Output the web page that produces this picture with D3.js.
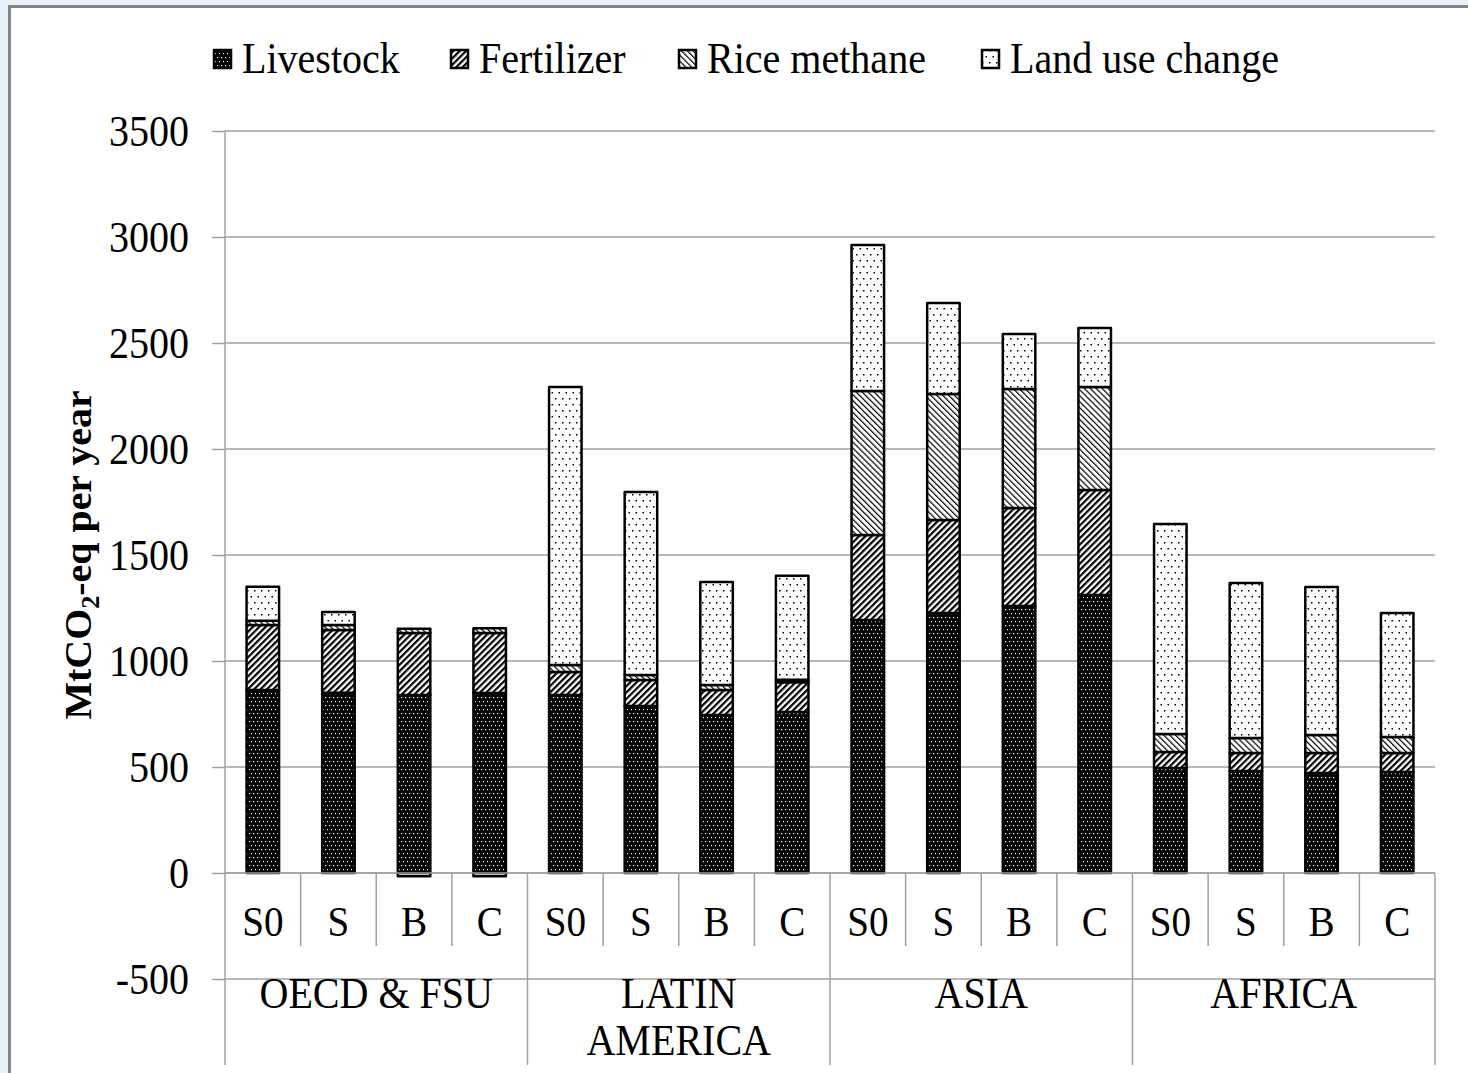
<!DOCTYPE html>
<html>
<head>
<meta charset="utf-8">
<script src="https://cdn.jsdelivr.net/npm/d3@7"></script>
<style>
  html, body { margin: 0; padding: 0; background: #e8f1f7; }
  svg { display: block; }
  text { font-family: "Liberation Serif", "Times New Roman", serif; fill: #000; }
</style>
</head>
<body>
<svg id="chart" width="1468" height="1073"></svg>
<script>
// ---- data ----
const groups = ["OECD & FSU", "LATIN AMERICA", "ASIA", "AFRICA"];
const scenarios = ["S0", "S", "B", "C"];
const seriesNames = ["Livestock", "Fertilizer", "Rice methane", "Land use change"];
const livestock     = [863, 850, 840, 849,   840, 788, 745, 760,   1193, 1226, 1259, 1311,   495, 481, 472, 476];
const fertilizer    = [307, 296, 292, 283,   108, 122, 118, 140,    401,  439,  463,  496,    76,  85,  94,  90];
const riceMethane   = [ 20,  24,  20,  22,    33,  24,  24,  12,    680,  594,  561,  485,    85,  71,  85,  76];
const landUseChange = [160,  61, -15, -15,  1311, 863, 486, 490,    688,  430,  259,  279,   990, 731, 698, 584];
const yTicks = [-500, 0, 500, 1000, 1500, 2000, 2500, 3000, 3500];

// ---- build rows ----
const rows = [];
groups.forEach((g, gi) => scenarios.forEach((s, si) => {
  const i = gi * scenarios.length + si;
  rows.push({ id: g + "|" + s, group: g, scen: s,
    "Livestock": livestock[i], "Fertilizer": fertilizer[i],
    "Rice methane": riceMethane[i], "Land use change": landUseChange[i] });
}));

const svg = d3.select("#chart");
const SX = 0.91; // horizontal condensing of the serif type, as in the reference

function label(parent, x, yy, str, size, anchor) {
  return parent.append("text")
    .attr("transform", `translate(${x},${yy}) scale(${SX},1)`)
    .attr("text-anchor", anchor || "start")
    .style("font-size", size + "px").text(str);
}

// ---- patterns ----
const defs = svg.append("defs");
const pLive = defs.append("pattern").attr("id", "pLive").attr("patternUnits", "userSpaceOnUse")
  .attr("width", 4).attr("height", 8);
pLive.append("rect").attr("width", 4).attr("height", 8).attr("fill", "#000");
pLive.append("rect").attr("x", 1).attr("y", 1).attr("width", 1.2).attr("height", 1.2).attr("fill", "#fff");
pLive.append("rect").attr("x", 3).attr("y", 5).attr("width", 1.2).attr("height", 1.2).attr("fill", "#fff");

const pFert = defs.append("pattern").attr("id", "pFert").attr("patternUnits", "userSpaceOnUse")
  .attr("width", 4.5).attr("height", 10).attr("patternTransform", "rotate(45)");
pFert.append("rect").attr("width", 4.5).attr("height", 10).attr("fill", "#fff");
pFert.append("rect").attr("width", 2.2).attr("height", 10).attr("fill", "#000");

const pRice = defs.append("pattern").attr("id", "pRice").attr("patternUnits", "userSpaceOnUse")
  .attr("width", 4.2).attr("height", 10).attr("patternTransform", "rotate(-45)");
pRice.append("rect").attr("width", 4.2).attr("height", 10).attr("fill", "#fff");
pRice.append("rect").attr("width", 1.2).attr("height", 10).attr("fill", "#000");

const pLand = defs.append("pattern").attr("id", "pLand").attr("patternUnits", "userSpaceOnUse")
  .attr("width", 7).attr("height", 12);
pLand.append("rect").attr("width", 7).attr("height", 12).attr("fill", "#fff");
pLand.append("rect").attr("x", 2).attr("y", 2).attr("width", 1.5).attr("height", 1.5).attr("fill", "#000");
pLand.append("rect").attr("x", 5.5).attr("y", 8).attr("width", 1.5).attr("height", 1.5).attr("fill", "#000");

const fills = { "Livestock": "url(#pLive)", "Fertilizer": "url(#pFert)",
  "Rice methane": "url(#pRice)", "Land use change": "url(#pLand)" };

// ---- frame ----
svg.append("rect").attr("x", 11).attr("y", 8).attr("width", 1468).attr("height", 1073).attr("fill", "#fff");
svg.append("rect").attr("x", 8).attr("y", 5).attr("width", 1468).attr("height", 3).attr("fill", "#858585");
svg.append("rect").attr("x", 8).attr("y", 5).attr("width", 3).attr("height", 1073).attr("fill", "#858585");

// ---- scales ----
const plotL = 225, plotR = 1435;
const y = d3.scaleLinear().domain([-500, 3500]).range([979, 131]);
const x = d3.scaleBand().domain(rows.map(d => d.id)).range([plotL, plotR]).padding(0);
const gx = d3.scaleBand().domain(groups).range([plotL, plotR]).padding(0);
const barW = x.bandwidth() * 0.43;

// ---- gridlines ----
svg.append("g").selectAll("line").data(yTicks).join("line")
  .attr("x1", plotL).attr("x2", plotR)
  .attr("y1", d => y(d)).attr("y2", d => y(d))
  .attr("stroke", "#a0a0a0").attr("stroke-width", 1.5);

// ---- y axis ----
const yAxis = svg.append("g").attr("transform", `translate(${plotL},0)`)
  .call(d3.axisLeft(y).tickValues(yTicks).tickSize(13).tickFormat(""));
yAxis.select(".domain").remove();
yAxis.selectAll(".tick line").attr("stroke", "#a0a0a0").attr("stroke-width", 1.5);
const yLab = svg.append("g");
yTicks.forEach(v => {
  label(yLab, 189, y(v), String(v), 44, "end").attr("dominant-baseline", "central");
});
svg.append("line").attr("x1", plotL).attr("x2", plotL).attr("y1", y(3500)).attr("y2", 1065)
  .attr("stroke", "#a0a0a0").attr("stroke-width", 1.5);

// ---- bars ----
const stack = d3.stack().keys(seriesNames).offset(d3.stackOffsetDiverging);
const stacked = stack(rows);
const barG = svg.append("g");
stacked.forEach(layer => {
  barG.append("g").selectAll("rect").data(layer).join("rect")
    .attr("x", d => x(d.data.id) + (x.bandwidth() - barW) / 2)
    .attr("width", barW)
    .attr("y", d => y(Math.max(d[0], d[1])))
    .attr("height", d => Math.abs(y(d[0]) - y(d[1])))
    .attr("fill", fills[layer.key])
    .attr("stroke", "#000").attr("stroke-width", 2.5).attr("stroke-linejoin", "round");
});

// ---- category axis (at zero) ----
const axG = svg.append("g");
axG.append("line").attr("x1", plotL).attr("x2", plotR).attr("y1", y(0)).attr("y2", y(0))
  .attr("stroke", "#a0a0a0").attr("stroke-width", 1.5);
rows.forEach((d, i) => {
  if (i % scenarios.length !== 0) {
    axG.append("line").attr("x1", x(d.id)).attr("x2", x(d.id))
      .attr("y1", y(0)).attr("y2", 946).attr("stroke", "#a0a0a0").attr("stroke-width", 1.5);
  }
});
groups.forEach(g => {
  axG.append("line").attr("x1", gx(g) + gx.bandwidth()).attr("x2", gx(g) + gx.bandwidth())
    .attr("y1", y(0)).attr("y2", 1065).attr("stroke", "#a0a0a0").attr("stroke-width", 1.5);
});
rows.forEach(d => {
  label(axG, x(d.id) + x.bandwidth() / 2, 921, d.scen, 43, "middle").attr("dominant-baseline", "central");
});
const groupLines = { "OECD & FSU": ["OECD & FSU"], "LATIN AMERICA": ["LATIN", "AMERICA"],
  "ASIA": ["ASIA"], "AFRICA": ["AFRICA"] };
groups.forEach(g => {
  groupLines[g].forEach((ln, k) => {
    label(axG, gx(g) + gx.bandwidth() / 2, 1008 + k * 47, ln, 44, "middle");
  });
});

// ---- y title ----
const yt = svg.append("text").attr("transform", "translate(91,555) rotate(-90) scale(1.05,1)")
  .attr("text-anchor", "middle").style("font-size", "38px").style("font-weight", "bold");
yt.append("tspan").text("MtCO");
yt.append("tspan").attr("dy", 8).style("font-size", "25px").text("2");
yt.append("tspan").attr("dy", -8).text("-eq per year");

// ---- legend ----
const legendX = [214, 451, 679, 982];
const lg = svg.append("g");
seriesNames.forEach((s, i) => {
  lg.append("rect").attr("x", legendX[i]).attr("y", 50).attr("width", 17).attr("height", 18)
    .attr("fill", fills[s]).attr("stroke", "#000").attr("stroke-width", 2.5);
  label(lg, legendX[i] + 28, 73, s, 44, "start");
});
</script>
</body>
</html>
